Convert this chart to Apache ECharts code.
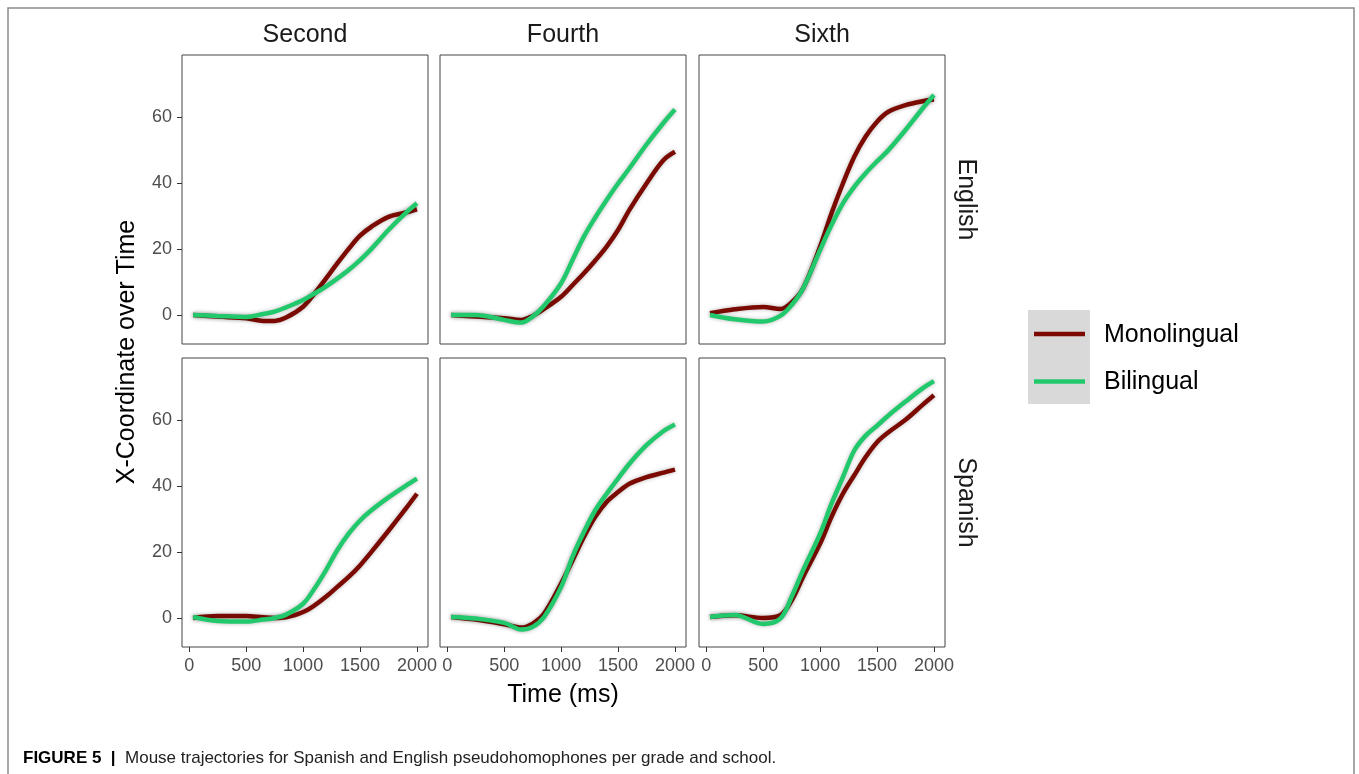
<!DOCTYPE html>
<html>
<head>
<meta charset="utf-8">
<script src="https://cdn.jsdelivr.net/npm/echarts@6/dist/echarts.min.js"></script>
<style>
  html, body { margin: 0; padding: 0; background: #fff; }
  #main { width: 1359px; height: 774px; }
</style>
</head>
<body>
<div id="main"></div>
<script>
// time points (ms) where the smoothed trajectories were read
var time = [33, 250, 500, 650, 750, 850, 1000, 1100, 1200, 1300, 1400, 1500, 1600, 1750, 1900, 2000];

var grades = ["Second", "Fourth", "Sixth"];
var languages = ["English", "Spanish"];
var groups = ["Monolingual", "Bilingual"];
var xTicks = [0, 500, 1000, 1500, 2000];
var yTicks = [0, 20, 40, 60];

// English pseudohomophones
var monoSecondEnglish = [0, -0.5, -1, -1.8, -1.8, -0.8, 2.5, 6.5, 11, 15.6, 20, 24, 26.7, 29.7, 31, 32];
var biSecondEnglish   = [0, -0.3, -0.6, 0.3, 1, 2.3, 4.5, 6.5, 8.6, 11, 13.6, 16.6, 20, 25.7, 30.8, 33.8];
var monoFourthEnglish = [0, -0.5, -1, -1.5, -0.3, 1.8, 5.5, 9, 12.6, 16.5, 20.7, 25.7, 31.8, 39.8, 46.9, 49.4];
var biFourthEnglish   = [0, 0, -1.5, -2.3, -0.5, 2.8, 9.6, 16.6, 23.7, 29.5, 34.8, 39.8, 44.4, 51.6, 58.2, 62.2];
var monoSixthEnglish  = [0.5, 1.7, 2.4, 1.8, 3.8, 8, 20.7, 30.8, 39.8, 47.9, 54, 58.5, 61.5, 63.5, 64.7, 65.2];
var biSixthEnglish    = [0, -1.3, -2, -0.3, 3, 8, 19.7, 27.2, 33.8, 38.8, 42.9, 46.5, 49.9, 56, 62.5, 66.6];

// Spanish pseudohomophones
var monoSecondSpanish = [0, 0.6, 0.6, 0.2, 0, 0.2, 1.8, 3.8, 6.4, 9.4, 12.4, 15.9, 20, 26.4, 33, 37.6];
var biSecondSpanish   = [0.3, -0.9, -1.1, -0.5, 0, 1, 4.3, 8.9, 14.4, 20.5, 25.5, 29.5, 32.6, 36.5, 40, 42.2];
var monoFourthSpanish = [0.3, -0.5, -1.9, -2.9, -1.7, 1.3, 10.4, 17.4, 24.5, 30.6, 35.1, 38.1, 40.6, 42.6, 44, 44.9];
var biFourthSpanish   = [0.3, -0.2, -1.5, -3.5, -2.7, 0.3, 9.4, 18.5, 26, 32.6, 37.6, 42.2, 46.7, 52.3, 56.6, 58.6];
var monoSixthSpanish  = [0.3, 0.8, 0, 0.8, 5.3, 12.4, 22.5, 30.6, 37.6, 43.2, 48.7, 53.2, 56.2, 60, 64.5, 67.4];
var biSixthSpanish    = [0.3, 0.9, -1.8, -0.2, 6.4, 14.4, 25.5, 34.6, 42.6, 50.7, 55.2, 58.2, 61.3, 65.5, 69.5, 71.7];

var panels = [
  [monoSecondEnglish, biSecondEnglish], [monoFourthEnglish, biFourthEnglish], [monoSixthEnglish, biSixthEnglish],
  [monoSecondSpanish, biSecondSpanish], [monoFourthSpanish, biFourthSpanish], [monoSixthSpanish, biSixthSpanish]
];

var colors = ["#7b0b02", "#22c96c"];
var fontFamily = "'Liberation Sans', Arial, sans-serif";

var colLeft = [182, 440, 699];
var rowTop = [55, 358];
var panelW = 246, panelH = 289;

var grids = [], xAxes = [], yAxes = [], series = [];

function plain(v) { return String(v); }

for (var p = 0; p < 6; p++) {
  var row = Math.floor(p / 3), col = p % 3;
  grids.push({
    left: colLeft[col], top: rowTop[row], width: panelW, height: panelH,
    show: true, borderColor: "#444", borderWidth: 1, backgroundColor: "#fff"
  });
  xAxes.push({
    type: "value", gridIndex: p, min: -64, max: 2097, position: "bottom",
    axisLine: { show: false, onZero: false },
    splitLine: { show: false },
    axisTick: { show: row === 1, inside: false, length: 5, lineStyle: { color: "#333" }, customValues: xTicks },
    axisLabel: { show: row === 1, margin: 10, fontSize: 18, color: "#4d4d4d", fontFamily: fontFamily, formatter: plain, customValues: xTicks }
  });
  yAxes.push({
    type: "value", gridIndex: p, min: -8.8, max: 78.7, position: "left",
    axisLine: { show: false, onZero: false },
    splitLine: { show: false },
    axisTick: { show: col === 0, inside: false, length: 5, lineStyle: { color: "#333" }, customValues: yTicks },
    axisLabel: { show: col === 0, margin: 10, fontSize: 18, color: "#4d4d4d", fontFamily: fontFamily, formatter: plain, customValues: yTicks }
  });
  for (var g = 0; g < 2; g++) {
    var vals = panels[p][g];
    series.push({
      name: groups[g], type: "line", xAxisIndex: p, yAxisIndex: p,
      smooth: 0.35, showSymbol: false, symbol: "none",
      data: time.map(function (t, i) { return [t, vals[i]]; }),
      lineStyle: { color: colors[g], width: 4.5, shadowColor: "rgba(0,0,0,0.28)", shadowBlur: 4 },
      z: 2 + g
    });
  }
}

var graphic = [
  // outer frame (open at the bottom)
  { type: "polyline", shape: { points: [[8, 774], [8, 8], [1354, 8], [1354, 774]] }, style: { stroke: "#8a8a8a", lineWidth: 1.5, fill: null } },
  // axis titles
  { type: "text", x: 563, y: 695, style: { text: "Time (ms)", fontSize: 25, fontFamily: fontFamily, fill: "#000", align: "center", verticalAlign: "middle" } },
  { type: "text", x: 127, y: 352, rotation: Math.PI / 2, style: { text: "X-Coordinate over Time", fontSize: 25, fontFamily: fontFamily, fill: "#000", align: "center", verticalAlign: "middle" } },
  // legend key background
  { type: "rect", shape: { x: 1028, y: 310, width: 62, height: 94 }, style: { fill: "#d9d9d9" } },
  // caption
  { type: "text", x: 23, y: 758, style: {
      text: "{b|FIGURE 5  |}  Mouse trajectories for Spanish and English pseudohomophones per grade and school.",
      fontSize: 17, fontFamily: fontFamily, fill: "#222", verticalAlign: "middle",
      rich: { b: { fontWeight: "bold", fontSize: 17, fontFamily: fontFamily, fill: "#000" } } } }
];

grades.forEach(function (name, c) {
  graphic.push({ type: "text", x: colLeft[c] + panelW / 2, y: 35, style: { text: name, fontSize: 25, fontFamily: fontFamily, fill: "#1a1a1a", align: "center", verticalAlign: "middle" } });
});
languages.forEach(function (name, r) {
  graphic.push({ type: "text", x: 966, y: rowTop[r] + panelH / 2, rotation: -Math.PI / 2, style: { text: name, fontSize: 25, fontFamily: fontFamily, fill: "#1a1a1a", align: "center", verticalAlign: "middle" } });
});
groups.forEach(function (name, g) {
  var y = 334 + g * 47.5;
  graphic.push({ type: "line", shape: { x1: 1034, y1: y, x2: 1085, y2: y }, style: { stroke: colors[g], lineWidth: 4.5 } });
  graphic.push({ type: "text", x: 1104, y: y + 1, style: { text: name, fontSize: 25, fontFamily: fontFamily, fill: "#000", verticalAlign: "middle" } });
});

var myChart = echarts.init(document.getElementById("main"));
myChart.setOption({
  animation: false,
  backgroundColor: "#fff",
  grid: grids,
  xAxis: xAxes,
  yAxis: yAxes,
  series: series,
  graphic: graphic
});
</script>
</body>
</html>
